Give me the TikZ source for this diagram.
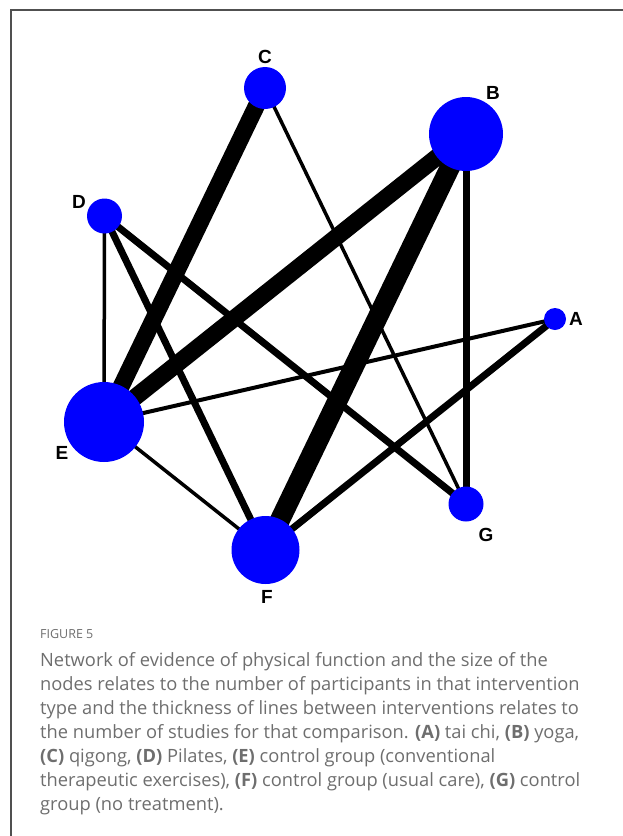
\documentclass[tikz,border=0pt]{standalone}
\usepackage{fontspec}
\setmainfont{Liberation Sans}
\newfontfamily\capfont{Open Sans}
\usetikzlibrary{backgrounds}
\definecolor{nodeblue}{RGB}{0,0,255}
\definecolor{capgray}{RGB}{110,110,110}
\definecolor{framegray}{RGB}{80,80,80}
\tikzset{
  vert/.style={circle, fill=nodeblue, draw=none, inner sep=0pt, minimum size=#1},
  lab/.style={font=\fontsize{19}{19}\selectfont\bfseries, inner sep=0pt},
  thin/.style={line width=3.5pt},
  mid/.style={line width=7pt},
  fat/.style={line width=17pt},
  fatter/.style={line width=20pt},
  capline/.style={anchor=base west, inner sep=0pt, text=capgray, font=\capfont\fontsize{18.3}{18.3}\selectfont},
}
\begin{document}
\begin{tikzpicture}[x=1pt, y=-1pt]
\useasboundingbox (0,0) rectangle (623,836);
\draw[framegray, line width=1.5pt] (623,10) -- (11,10) -- (11,836);

\node[vert=42pt] (C) at (265,88) {};
\node[vert=74pt] (B) at (466,134) {};
\node[vert=35pt] (D) at (104.5,216) {};
\node[vert=22pt] (A) at (555,319) {};
\node[vert=80pt] (E) at (104,422) {};
\node[vert=35pt] (G) at (466,504) {};
\node[vert=68pt] (F) at (265.5,550) {};

\node[lab] (lC) at (265,57) {C};
\node[lab] (lB) at (493,93) {B};
\node[lab] (lD) at (79,202) {D};
\node[lab] (lA) at (576,319) {A};
\node[lab] (lE) at (62,453) {E};
\node[lab] (lG) at (486,535) {G};
\node[lab] (lF) at (267,597) {F};

\begin{pgfonlayer}{background}
\draw[fat] (C.center) -- (E.center);
\draw[fat] (B.center) -- (E.center);
\draw[fatter] (B.center) -- (F.center);
\draw[mid] (B.center) -- (G.center);
\draw[thin] (C.center) -- (G.center);
\draw[thin] (D.center) -- (E.center);
\draw[mid] (D.center) -- (F.center);
\draw[mid] (D.center) -- (G.center);
\draw[line width=4pt] (A.center) -- (E.center);
\draw[mid] (A.center) -- (F.center);
\draw[thin] (E.center) -- (F.center);
\end{pgfonlayer}

\node[capline, font=\capfont\fontsize{12.5}{12.5}\selectfont] (cap0) at (40,638) {FIGURE 5};
\node[capline] (cap1) at (40,666) {Network of evidence of physical function and the size of the};
\node[capline] (cap2) at (40,690) {nodes relates to the number of participants in that intervention};
\node[capline] (cap3) at (40,714) {type and the thickness of lines between interventions relates to};
\node[capline] (cap4) at (40,738) {the number of studies for that comparison. \textbf{(A)} tai chi, \textbf{(B)} yoga,};
\node[capline] (cap5) at (40,762) {\textbf{(C)} qigong, \textbf{(D)} Pilates, \textbf{(E)} control group (conventional};
\node[capline] (cap6) at (40,786) {therapeutic exercises), \textbf{(F)} control group (usual care), \textbf{(G)} control};
\node[capline] (cap7) at (40,810) {group (no treatment).};
\end{tikzpicture}
\end{document}
